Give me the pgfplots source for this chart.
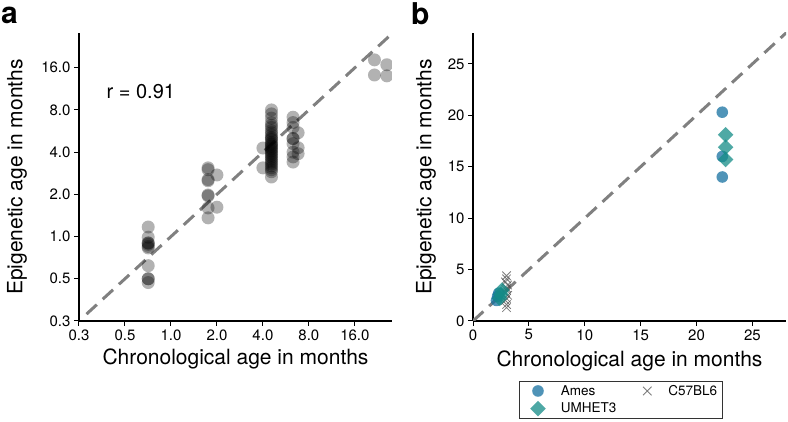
\documentclass[border=0pt]{standalone}
\usepackage{pgfplots}
\pgfplotsset{compat=1.18}
\usepackage{fontspec}
\setmainfont{TeX Gyre Heros}
\definecolor{ames}{RGB}{21,112,160}
\definecolor{umhet}{RGB}{20,140,135}
\definecolor{dashgray}{RGB}{128,128,128}
\definecolor{xgray}{RGB}{70,70,70}
\pgfplotsset{
 myaxis/.style={
  scale only axis, width=313pt, height=288pt,
  axis x line*=bottom, axis y line*=left,
  axis line style={line width=2pt, -},
  tick align=outside, major tick length=5pt,
  tick style={line width=1pt, black},
  ticklabel style={font=\fontsize{15}{18}\selectfont},
  label style={font=\fontsize{21}{25}\selectfont},
  /pgf/number format/assume math mode=true,
  clip marker paths=true,
 },
 dashline/.style={dashgray, line width=3pt, dash pattern=on 14pt off 8pt},
 apt/.style={only marks, mark=*, mark size=6.5pt, mark options={black, fill=black, draw opacity=0, fill opacity=0.3}},
}
\begin{document}
\begin{tikzpicture}
\useasboundingbox (0,0) rectangle (788pt,422pt);
\node[anchor=north west, inner sep=0pt, font=\bfseries\fontsize{30}{30}\selectfont] at (1pt,415pt) {a};
\node[anchor=north west, inner sep=0pt, font=\bfseries\fontsize{30}{30}\selectfont] at (411pt,420pt) {b};
% ---------- panel a
\begin{axis}[myaxis, at={(79pt,101pt)}, anchor=south west,
  xmode=log, ymode=log, log basis x=2, log basis y=2,
  xmin=0.25, xmax=28, ymin=0.25, ymax=28.3,
  xtick={0.25,0.5,1,2,4,8,16}, xticklabels={0.3,0.5,1.0,2.0,4.0,8.0,16.0},
  ytick={0.25,0.5,1,2,4,8,16}, yticklabels={0.3,0.5,1.0,2.0,4.0,8.0,16.0},
  xlabel={Chronological age in months}, ylabel={Epigenetic age in months},
  xlabel style={at={(axis description cs:0.5,-0.132)}, anchor=center},
  ylabel style={at={(axis description cs:-0.198,0.5)}, anchor=center},
]
\addplot[dashline] coordinates {(0.28,0.28) (30,30)};
\addplot[apt] coordinates {
 (0.71,1.17) (0.71,0.99) (0.71,0.90) (0.71,0.90) (0.71,0.88) (0.71,0.85) (0.71,0.83)
 (0.71,0.62) (0.71,0.50) (0.71,0.50) (0.71,0.47)
 (1.75,3.09) (1.75,3.0) (1.75,2.55) (1.75,2.5) (1.75,1.98) (1.75,1.95) (1.75,1.6) (1.75,1.36)
 (2.0,2.75) (2.0,1.62)
 (4.0,4.28) (4.0,3.09)
 (4.55,8.0) (4.55,7.5) (4.55,7.0) (4.55,6.5) (4.55,6.2) (4.55,6.0) (4.55,5.7) (4.55,5.5)
 (4.55,5.3) (4.55,5.1) (4.55,5.0) (4.55,4.9) (4.55,4.7) (4.55,4.6) (4.55,4.5) (4.55,4.4)
 (4.55,4.3) (4.55,4.2) (4.55,4.1) (4.55,4.0) (4.55,3.9) (4.55,3.8) (4.55,3.7) (4.55,3.6)
 (4.55,3.5) (4.55,3.4) (4.55,3.3) (4.55,3.2) (4.55,3.1) (4.55,3.0) (4.55,2.9) (4.55,2.66)
 (6.3,7.1) (6.3,6.5) (6.3,6.0) (6.3,5.0) (6.3,5.0) (6.3,4.6) (6.3,4.0) (6.3,3.7) (6.3,3.4)
 (6.8,5.5) (6.8,4.3) (6.8,3.9)
 (21.5,18.2) (25.9,16.8) (21.5,14.2) (25.9,14.0)
};
\node[anchor=west, font=\fontsize{20}{24}\selectfont] at (axis description cs:0.077,0.795) {r = 0.91};
\end{axis}
% ---------- panel b
\begin{axis}[myaxis, at={(473pt,101pt)}, anchor=south west,
  xmin=0, xmax=28, ymin=0, ymax=28,
  xtick={0,5,10,15,20,25}, ytick={0,5,10,15,20,25},
  xlabel={Chronological age in months}, ylabel={Epigenetic age in months},
  xlabel style={at={(axis description cs:0.5,-0.138)}, anchor=center},
  ylabel style={at={(axis description cs:-0.150,0.5)}, anchor=center},
  legend style={at={(axis description cs:0.146,-0.208)}, anchor=north west,
    legend columns=2, draw=black!80, line width=0.6pt,
    font=\fontsize{13.5}{16}\selectfont,
    column sep=13pt, row sep=2pt,
    nodes={inner sep=2pt},
    inner xsep=3pt, inner ysep=2pt},
  legend cell align=left,
  legend image code/.code={%
    \path[draw=none, fill=none] (0pt,-4pt) rectangle (22pt,4pt);
    \draw[mark repeat=2,mark phase=2,#1] plot coordinates {(0pt,0pt) (16pt,0pt) (22pt,0pt)};},
]
\addplot[dashline, forget plot] coordinates {(0,0) (30,30)};
\addplot[only marks, mark=*, mark size=5.8pt, mark options={ames, fill=ames, draw opacity=0, fill opacity=0.75}] coordinates {
 (22.3,20.3) (22.3,16.0) (22.3,14.0) (2.1,2.0) (2.2,2.4) (2.3,2.7)
};
\addlegendentry{Ames}
\addplot[only marks, mark=x, mark size=6pt, mark options={draw=xgray, line width=0.8pt, opacity=0.7}] coordinates {
 (3.0,1.3) (3.0,1.6) (2.9,2.0) (3.0,2.2) (3.1,2.5) (2.9,2.7) (3.0,3.0) (3.0,3.2)
 (3.1,3.5) (2.9,3.8) (3.0,4.1) (3.0,4.4)
};
\addlegendentry{C57BL6}
\addplot[only marks, mark=square*, mark size=5.5pt, mark options={umhet, fill=umhet, draw opacity=0, fill opacity=0.75, rotate=45}] coordinates {
 (22.6,18.1) (22.6,16.9) (22.6,15.7) (2.5,2.6) (2.6,3.0) (2.4,2.2)
};
\addlegendentry{UMHET3\hspace{6.5pt}}
\end{axis}
\end{tikzpicture}
\end{document}
